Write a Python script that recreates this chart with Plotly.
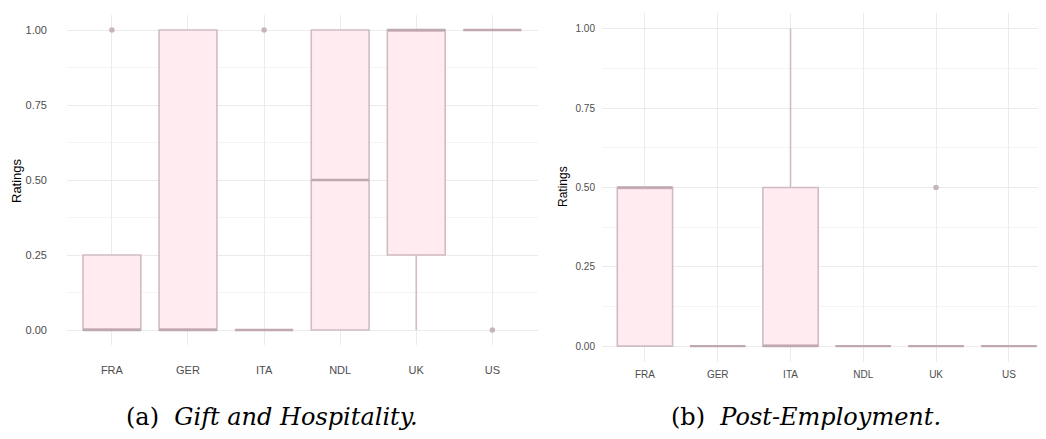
import plotly.graph_objects as go

countries = ["FRA", "GER", "ITA", "NDL", "UK", "US"]

# (a) Gift and Hospitality
gift_q1 = [0.0, 0.0, 0.0, 0.0, 0.25, 1.0]
gift_median = [0.0, 0.0, 0.0, 0.5, 1.0, 1.0]
gift_q3 = [0.25, 1.0, 0.0, 1.0, 1.0, 1.0]
gift_lower = [0.0, 0.0, 0.0, 0.0, 0.0, 1.0]
gift_upper = [0.25, 1.0, 0.0, 1.0, 1.0, 1.0]
gift_out_x = ["FRA", "ITA", "US"]
gift_out_y = [1.0, 1.0, 0.0]

# (b) Post-Employment
post_q1 = [0.0, 0.0, 0.0, 0.0, 0.0, 0.0]
post_median = [0.5, 0.0, 0.0, 0.0, 0.0, 0.0]
post_q3 = [0.5, 0.0, 0.5, 0.0, 0.0, 0.0]
post_lower = [0.0, 0.0, 0.0, 0.0, 0.0, 0.0]
post_upper = [0.5, 0.0, 1.0, 0.0, 0.0, 0.0]
post_out_x = ["UK"]
post_out_y = [0.5]

y_ticks = [0, 0.25, 0.5, 0.75, 1.0]
y_tick_labels = ["0.00", "0.25", "0.50", "0.75", "1.00"]

FILL = "#FFEBF0"
EDGE = "#D2BCC4"
MED = "#BFA8B0"
OUT = "#C6B6BC"
GRID = "#EBEBEB"
MINOR = "#F4F4F4"

# page body has an 8px margin; figure is placed at (8, 8)
OFF = 8
W, H = 1046 - OFF, 439 - OFF


def px(xp):
    return (xp - OFF) / W


def py(yp):
    return 1 - (yp - OFF) / H


fig = go.Figure()


def add_panel(q1, med, q3, lo, up, ox, oy, xa, ya, boxpx):
    fig.add_trace(go.Box(
        x=countries, q1=q1, median=med, q3=q3, lowerfence=lo, upperfence=up,
        fillcolor=FILL, line=dict(color=EDGE, width=1.6), whiskerwidth=0,
        width=0.76, boxpoints=False, xaxis=xa, yaxis=ya, showlegend=False,
    ))
    fig.add_trace(go.Scatter(
        x=countries, y=med, mode="markers", xaxis=xa, yaxis=ya, showlegend=False,
        marker=dict(symbol="line-ew", size=boxpx / 1.4,
                    line=dict(color=MED, width=2.4)),
        hoverinfo="skip",
    ))
    fig.add_trace(go.Scatter(
        x=ox, y=oy, mode="markers", xaxis=xa, yaxis=ya, showlegend=False,
        marker=dict(color=OUT, size=5.5),
    ))


add_panel(gift_q1, gift_median, gift_q3, gift_lower, gift_upper,
          gift_out_x, gift_out_y, "x", "y", 58)
add_panel(post_q1, post_median, post_q3, post_lower, post_upper,
          post_out_x, post_out_y, "x2", "y2", 55.5)


def yaxis(domain, anchor, size, standoff):
    return dict(
        domain=domain, anchor=anchor, range=[-0.05, 1.05],
        tickvals=y_ticks, ticktext=y_tick_labels, showgrid=True,
        gridcolor=GRID, gridwidth=1, zeroline=False, showline=False,
        ticks="", ticklabelstandoff=standoff,
        tickfont=dict(family="Liberation Sans, Arial", size=size, color="#4D4D4D"),
        minor=dict(showgrid=True, gridcolor=MINOR, gridwidth=1,
                   tickvals=[0.125, 0.375, 0.625, 0.875]),
    )


def xaxis(domain, anchor, rng, size, standoff):
    return dict(
        domain=domain, anchor=anchor, range=rng, type="category",
        categoryorder="array", categoryarray=countries,
        showgrid=True, gridcolor=GRID, gridwidth=1, zeroline=False,
        showline=False, ticks="", ticklabelstandoff=standoff,
        tickfont=dict(family="Liberation Sans, Arial", size=size, color="#4D4D4D"),
    )


fig.update_layout(
    width=W, height=H,
    margin=dict(l=0, r=0, t=0, b=0),
    paper_bgcolor="white", plot_bgcolor="white",
    xaxis=xaxis([px(67), px(538)], "y", [-0.59, 5.6], 11, 17),
    yaxis=yaxis([py(345), py(15)], "x", 11, 19),
    xaxis2=xaxis([px(602), 1.0], "y2", [-0.59, 5.51], 10, 5),
    yaxis2=yaxis([py(362), py(13)], "x2", 10, 6),
    annotations=[
        dict(text="Ratings", xref="paper", yref="paper", x=px(17), y=py(180),
             xanchor="center", yanchor="middle", textangle=-90, showarrow=False,
             font=dict(family="Liberation Sans, Arial", size=13, color="black")),
        dict(text="Ratings", xref="paper", yref="paper", x=px(563), y=py(187),
             xanchor="center", yanchor="middle", textangle=-90, showarrow=False,
             font=dict(family="Liberation Sans, Arial", size=12, color="black")),
        dict(text="(a)&nbsp;&nbsp;<i>Gift and Hospitality.</i>", xref="paper", yref="paper",
             x=px(272), y=py(417), xanchor="center", yanchor="middle",
             showarrow=False,
             font=dict(family="DejaVu Serif", size=24, color="black")),
        dict(text="(b)&nbsp;&nbsp;<i>Post-Employment.</i>", xref="paper", yref="paper",
             x=px(806), y=py(417), xanchor="center", yanchor="middle",
             showarrow=False,
             font=dict(family="DejaVu Serif", size=24, color="black")),
    ],
)

fig.write_html("out.html")
